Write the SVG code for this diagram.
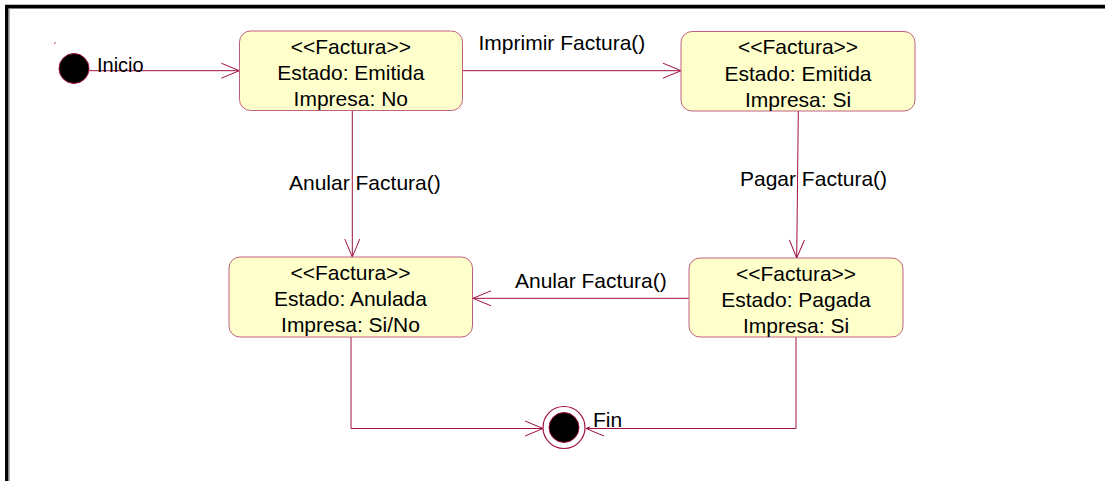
<svg xmlns="http://www.w3.org/2000/svg" width="1105" height="481" viewBox="0 0 1105 481">
<style>
  text { font-family: "Liberation Sans", Arial, sans-serif; font-size: 21px; fill: #000; }
  .node rect { fill: #FFFFCC; stroke: #C06080; stroke-width: 1; }
  .node text { text-anchor: middle; }
  .conn { fill: none; stroke: #A01040; stroke-width: 1; }
  .arrow { marker-end: url(#open); }
</style>
<defs>
  <marker id="open" markerUnits="userSpaceOnUse" markerWidth="40" markerHeight="40" viewBox="-20 -20 40 40" refX="0" refY="0" orient="auto" overflow="visible">
    <path d="M -18 -7.5 L 0 0 L -18 7.5" fill="none" stroke="#A01040" stroke-width="1"/>
  </marker>
</defs>
<rect x="0" y="0" width="1105" height="481" fill="#FFFFFF"/>
<g id="frame">
  <line x1="5" y1="4.5" x2="1105" y2="4.5" stroke="#C0C0C0" stroke-width="1"/>
  <line x1="5" y1="6.8" x2="1105" y2="6.8" stroke="#000" stroke-width="3.5"/>
  <line x1="6.8" y1="5" x2="6.8" y2="481" stroke="#000" stroke-width="3.5"/>
  <line x1="9.2" y1="8.5" x2="9.2" y2="481" stroke="#A0A0A0" stroke-width="1.2"/>
  <line x1="54" y1="43.6" x2="55.6" y2="42.6" stroke="#A01040" stroke-width="1"/>
</g>
<g id="connectors">
  <path class="conn arrow" d="M 89 70.7 L 239.3 70.7"/>
  <path class="conn arrow" d="M 462.5 70.7 L 681 70.7"/>
  <path class="conn arrow" d="M 352.3 110.5 L 352.3 257"/>
  <path class="conn arrow" d="M 798.3 111 L 796.7 258"/>
  <path class="conn arrow" d="M 689 298.3 L 473 298.3"/>
  <path class="conn arrow" d="M 351 337 L 351 428.5 L 543 428.5"/>
  <path class="conn arrow" d="M 796 337 L 796 428.5 L 586 428.5"/>
  <text x="478.5" y="50">Imprimir Factura()</text>
  <text x="289" y="190">Anular Factura()</text>
  <text x="740" y="186">Pagar Factura()</text>
  <text x="515" y="288">Anular Factura()</text>
</g>
<g id="inicio">
  <circle cx="74" cy="68.5" r="15" fill="#000" stroke="#A01040" stroke-width="1"/>
  <text x="97" y="72" style="font-size:20px">Inicio</text>
</g>
<g id="fin">
  <circle cx="564" cy="427.5" r="21" fill="#FFFFFF" stroke="#A01040" stroke-width="1.2"/>
  <circle cx="564" cy="427.5" r="15" fill="#000" stroke="#A01040" stroke-width="1"/>
  <rect x="590" y="406" width="34" height="21.5" fill="#FFFFFF"/>
  <text x="593" y="426.5">Fin</text>
</g>
<g id="emitida-no" class="node">
  <rect x="239.5" y="31" width="223" height="79.5" rx="11" ry="11"/>
  <text x="350.8" y="53.5">&lt;&lt;Factura&gt;&gt;</text>
  <text x="350.8" y="80">Estado: Emitida</text>
  <text x="350.8" y="106">Impresa: No</text>
</g>
<g id="emitida-si" class="node">
  <rect x="681" y="31.5" width="234" height="79.5" rx="11" ry="11"/>
  <text x="798" y="54">&lt;&lt;Factura&gt;&gt;</text>
  <text x="798" y="80.5">Estado: Emitida</text>
  <text x="798" y="106.5">Impresa: Si</text>
</g>
<g id="anulada" class="node">
  <rect x="229" y="257" width="243.5" height="80" rx="11" ry="11"/>
  <text x="350.5" y="279.5">&lt;&lt;Factura&gt;&gt;</text>
  <text x="350.5" y="306">Estado: Anulada</text>
  <text x="350.5" y="332">Impresa: Si/No</text>
</g>
<g id="pagada" class="node">
  <rect x="689" y="258" width="214" height="79" rx="11" ry="11"/>
  <text x="796" y="280.5">&lt;&lt;Factura&gt;&gt;</text>
  <text x="796" y="306.5">Estado: Pagada</text>
  <text x="796" y="332.5">Impresa: Si</text>
</g>
</svg>
